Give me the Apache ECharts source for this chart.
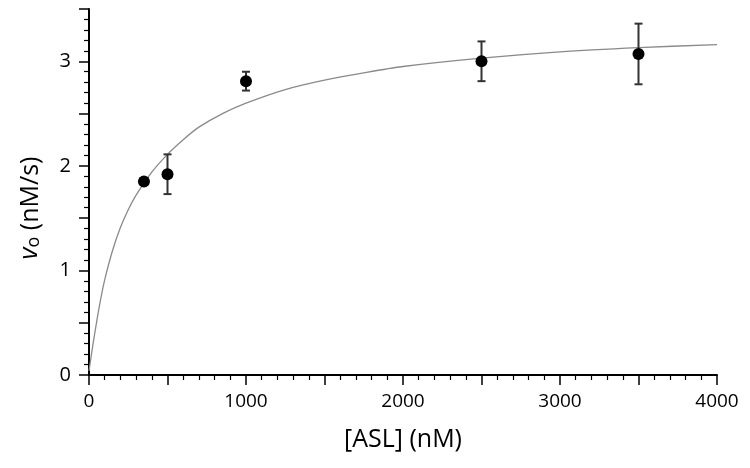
<!DOCTYPE html>
<html>
<head>
<meta charset="utf-8">
<script src="https://cdn.jsdelivr.net/npm/echarts@6/dist/echarts.min.js"></script>
<style>html,body{margin:0;padding:0;background:#fff}#c{width:750px;height:468px}</style>
</head>
<body>
<div id="c"></div>
<script>
// Measured data points
var concentrations = [350, 500, 1000, 2500, 3500];
var rates = [1.85, 1.92, 2.81, 3.00, 3.07];
var rateErrors = [0, 0.19, 0.09, 0.19, 0.29];
// Fitted curve
var curveX = [0, 25, 50, 75, 100, 150, 200, 250, 300, 400, 500, 600, 700, 850, 1000, 1250, 1500, 1750, 2000, 2500, 3000, 3500, 4000];
var curveY = [0.04, 0.29, 0.52, 0.73, 0.91, 1.19, 1.41, 1.58, 1.72, 1.94, 2.11, 2.25, 2.37, 2.50, 2.60, 2.73, 2.82, 2.89, 2.95, 3.03, 3.09, 3.13, 3.16];
// Axis labels
var xLabels = [0, 1000, 2000, 3000, 4000];
var yLabels = [0, 1, 2, 3];

var FONT = '"Open Sans", "Noto Sans", sans-serif';
var chart = echarts.init(document.getElementById('c'), null, {renderer: 'canvas'});

var points = concentrations.map(function (x, i) { return [x, rates[i]]; });
var errData = concentrations.map(function (x, i) { return [x, rates[i] - rateErrors[i], rates[i] + rateErrors[i]]; });
var curve = curveX.map(function (x, i) { return [x, curveY[i]]; });

chart.setOption({
  animation: false,
  backgroundColor: '#fff',
  grid: {left: 89, right: 33, top: 9, bottom: 93, containLabel: false},
  xAxis: {
    type: 'value', min: 0, max: 4000, interval: 500,
    axisLine: {lineStyle: {color: '#000', width: 2}},
    axisTick: {show: true, inside: false, length: 10, lineStyle: {color: '#000', width: 1.5}},
    minorTick: {show: true, splitNumber: 5, length: 5, lineStyle: {color: '#000', width: 1.2}},
    splitLine: {show: false},
    axisLabel: {
      margin: 17, color: '#000', fontFamily: FONT, fontSize: 19,
      formatter: function (v) { return xLabels.indexOf(v) >= 0 ? String(v) : ''; }
    },
    name: '[ASL] (nM)', nameLocation: 'middle', nameGap: 52,
    nameTextStyle: {color: '#000', fontFamily: FONT, fontSize: 25}
  },
  yAxis: {
    type: 'value', min: 0, max: 3.5, interval: 0.5,
    axisLine: {lineStyle: {color: '#000', width: 2}},
    axisTick: {show: true, inside: false, length: 10, lineStyle: {color: '#000', width: 1.5}},
    minorTick: {show: true, splitNumber: 5, length: 5, lineStyle: {color: '#000', width: 1.2}},
    splitLine: {show: false},
    axisLabel: {
      margin: 18, color: '#000', fontFamily: FONT, fontSize: 20,
      formatter: function (v) { return yLabels.indexOf(v) >= 0 ? String(v) : ''; }
    }
  },
  graphic: [{
    type: 'text', x: 26, y: 208, rotation: Math.PI / 2,
    style: {
      text: '{v|v}{o|o}{t| (nM/s)}',
      align: 'center', verticalAlign: 'middle',
      fill: '#000',
      rich: {
        v: {fontFamily: FONT, fontSize: 26, fontStyle: 'italic', fill: '#000', verticalAlign: 'bottom', lineHeight: 34},
        o: {fontFamily: FONT, fontSize: 18, fill: '#000', verticalAlign: 'bottom', lineHeight: 22},
        t: {fontFamily: FONT, fontSize: 25, fill: '#000', verticalAlign: 'bottom', lineHeight: 34}
      }
    }
  }],
  series: [
    {
      type: 'line', data: curve, smooth: 0.3, showSymbol: false,
      lineStyle: {color: '#8a8a8a', width: 1.3}, z: 1
    },
    {
      type: 'custom', data: errData, z: 2,
      renderItem: function (params, api) {
        var x = api.value(0);
        var lo = api.coord([x, api.value(1)]);
        var hi = api.coord([x, api.value(2)]);
        if (Math.abs(hi[1] - lo[1]) < 1) return null;
        var w = 4;
        var st = {stroke: '#333', lineWidth: 2};
        return {
          type: 'group',
          children: [
            {type: 'line', shape: {x1: lo[0], y1: lo[1], x2: hi[0], y2: hi[1]}, style: st},
            {type: 'line', shape: {x1: lo[0] - w, y1: lo[1], x2: lo[0] + w, y2: lo[1]}, style: st},
            {type: 'line', shape: {x1: hi[0] - w, y1: hi[1], x2: hi[0] + w, y2: hi[1]}, style: st}
          ]
        };
      }
    },
    {
      type: 'scatter', data: points, symbol: 'circle', symbolSize: 12, z: 3,
      itemStyle: {color: '#000', opacity: 1}
    }
  ]
});
</script>
</body>
</html>
